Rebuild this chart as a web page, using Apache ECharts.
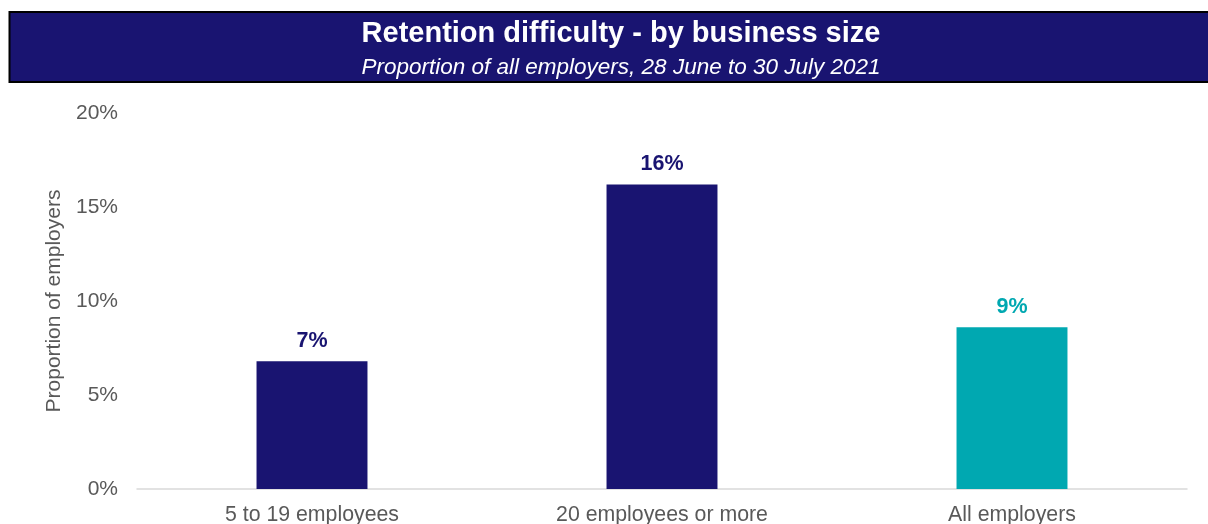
<!DOCTYPE html>
<html>
<head>
<meta charset="utf-8">
<script src="https://cdn.jsdelivr.net/npm/echarts@6/dist/echarts.min.js"></script>
<style>
  html, body { margin: 0; padding: 0; background: #ffffff; }
  #chart { width: 1208px; height: 524px; }
</style>
</head>
<body>
<div id="chart"></div>
<script>
// Retention difficulty by business size (share of employers, %)
const categories = ['5 to 19 employees', '20 employees or more', 'All employers'];
const values = [6.8, 16.2, 8.6];
const barColors = ['#191471', '#191471', '#00a8b1'];
const yTicks = [0, 5, 10, 15, 20];

const NAVY = '#191471';
const FONT = '"Liberation Sans", Arial, sans-serif';

const chart = echarts.init(document.getElementById('chart'));

chart.setOption({
  animation: false,
  textStyle: { fontFamily: FONT },
  graphic: [
    {
      type: 'rect',
      z: -1,
      shape: { x: 9.5, y: 12, width: 1205, height: 70 },
      style: { fill: NAVY, stroke: '#000000', lineWidth: 2 }
    }
  ],
  title: {
    text: 'Retention difficulty - by business size',
    subtext: 'Proportion of all employers, 28 June to 30 July 2021',
    left: 616,
    textAlign: 'center',
    top: 14,
    itemGap: 8,
    textStyle: { color: '#ffffff', fontSize: 29, fontWeight: 'bold', fontFamily: FONT },
    subtextStyle: { color: '#ffffff', fontSize: 22.5, fontStyle: 'italic', fontFamily: FONT }
  },
  grid: { left: 137, right: 21, top: 113, bottom: 35, outerBoundsMode: 'none', containLabel: false },
  xAxis: {
    type: 'category',
    data: categories,
    axisLine: { show: true, lineStyle: { color: '#d9d9d9', width: 1.5 } },
    axisTick: { show: false },
    axisLabel: { color: '#595959', fontSize: 21.3, margin: 16, fontFamily: FONT }
  },
  yAxis: {
    type: 'value',
    min: yTicks[0],
    max: yTicks[yTicks.length - 1],
    interval: yTicks[1] - yTicks[0],
    name: 'Proportion of employers',
    nameLocation: 'middle',
    nameGap: 64,
    nameRotate: 90,
    nameTextStyle: { color: '#595959', fontSize: 21, fontFamily: FONT },
    axisLine: { show: false },
    axisTick: { show: false },
    splitLine: { show: false },
    axisLabel: { color: '#595959', fontSize: 21, margin: 19, formatter: '{value}%', fontFamily: FONT }
  },
  series: [
    {
      type: 'bar',
      barWidth: '31.7%',
      data: values.map((v, i) => ({
        value: v,
        itemStyle: { color: barColors[i] },
        label: { color: barColors[i] }
      })),
      label: {
        show: true,
        position: 'top',
        distance: 9,
        fontSize: 21.5,
        fontWeight: 'bold',
        fontFamily: FONT,
        formatter: p => Math.round(p.value) + '%'
      }
    }
  ]
});
</script>
</body>
</html>
